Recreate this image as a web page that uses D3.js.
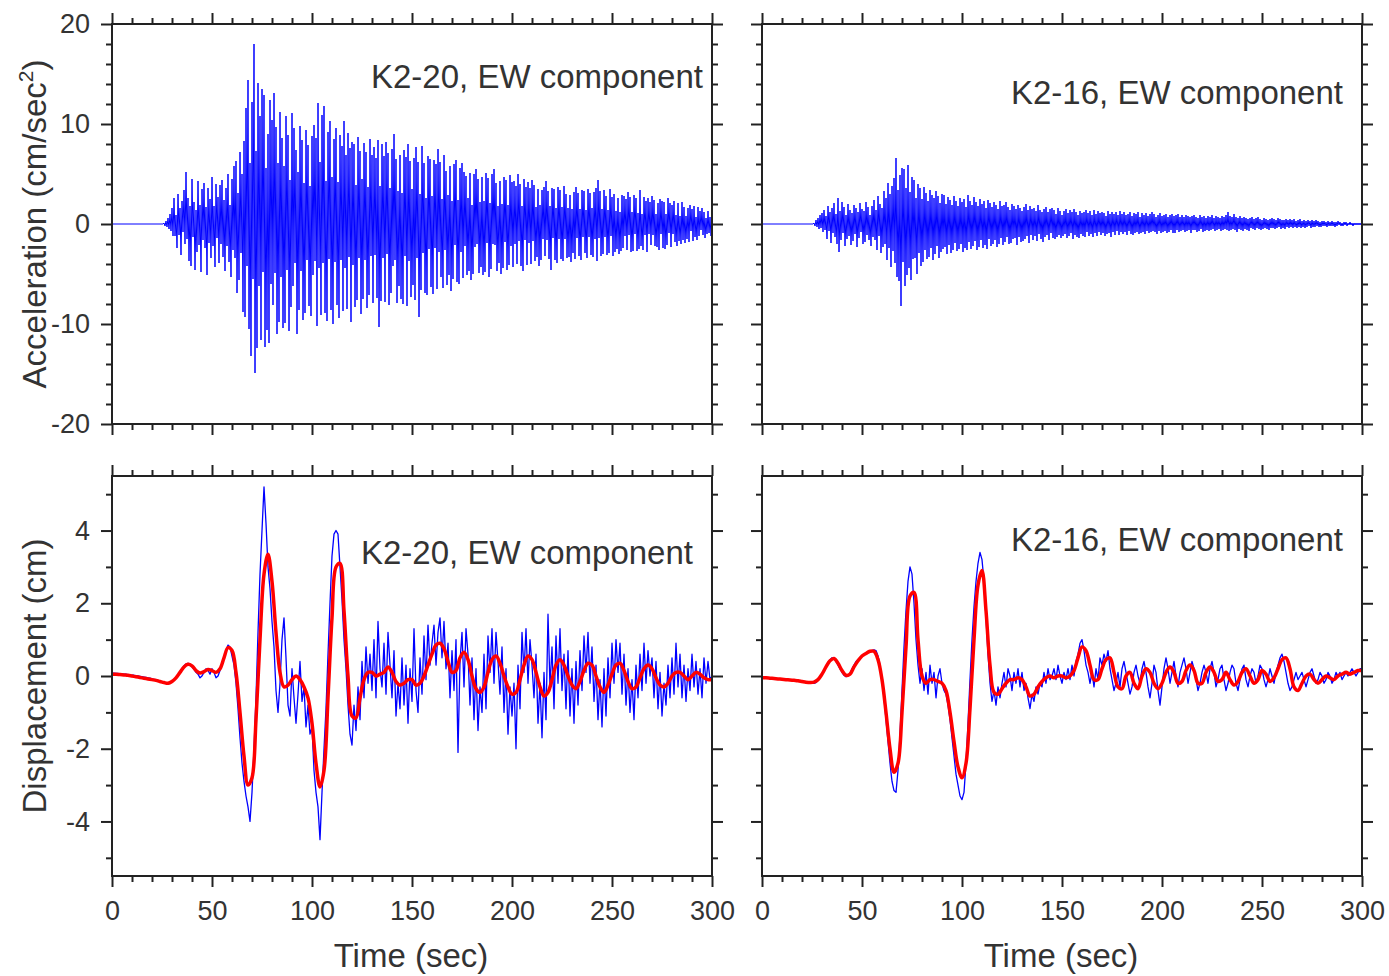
<!DOCTYPE html>
<html>
<head>
<meta charset="utf-8">
<script src="https://cdn.jsdelivr.net/npm/d3@7"></script>
<style>
  html, body { margin: 0; padding: 0; background: #fff; }
  svg { display: block; }
  text { font-family: "Liberation Sans", Arial, sans-serif; fill: #333; }
</style>
</head>
<body>
<svg id="chart" width="1389" height="976"></svg>
<script>
// ---- time axis ----
const timeTicks = [0, 50, 100, 150, 200, 250, 300];

// ---- acceleration records (cm/sec^2), sampled every ACC_DT s from ACC_T0 s; quiet before onset ----
const ACC_T0 = 26;
const ACC_DT = 0.5;
const accK220 = [
  0.1,-0.2,0.3,-0.3,0.6,-0.5,1.0,-0.7,1.6,-1.2,
  2.6,-1.2,0.9,-2.4,3.0,-1.1,1.6,-3.1,2.3,-0.8,
  3.4,-2.0,5.2,-1.5,2.6,-3.7,1.8,-4.2,4.5,-1.3,
  2.2,-4.6,1.4,-2.8,4.3,-2.1,1.9,-4.8,3.5,-1.6,
  4.1,-2.4,1.7,-5.1,3.6,-1.9,2.5,-3.4,4.7,-2.2,
  1.8,-4.3,4.0,-1.4,2.7,-3.9,3.9,-2.0,4.4,-3.3,
  2.4,-4.7,3.6,-2.2,5.0,-3.8,1.9,-5.3,4.5,-2.6,
  5.8,-3.4,6.3,-6.9,3.1,-5.6,7.2,-2.9,5.0,-8.8,
  8.3,-9.3,11.6,-4.2,14.4,-10.5,6.1,-13.2,12.2,-5.5,
  18.0,-14.9,7.3,-12.4,14.1,-6.2,10.8,-11.6,13.5,-4.8,
  12.9,-12.3,5.6,-10.6,9.0,-11.9,12.4,-6.0,10.4,-8.1,
  13.1,-4.9,9.7,-11.0,6.1,-9.8,11.2,-5.3,8.6,-10.4,
  5.8,-9.9,10.8,-4.6,8.9,-10.7,4.4,-8.3,11.1,-6.2,
  9.6,-3.9,7.4,-11.0,5.2,-8.6,9.8,-4.7,8.4,-9.6,
  4.1,-8.9,9.4,-3.6,7.9,-8.2,3.8,-9.2,8.8,-5.1,
  9.9,-3.7,8.6,-10.2,12.1,-4.4,6.2,-9.1,10.9,-3.9,
  11.8,-8.9,4.3,-9.7,9.2,-3.5,10.3,-8.6,4.7,-10.0,
  8.5,-3.8,9.6,-8.1,4.2,-9.4,8.9,-3.6,7.8,-8.7,
  10.3,-4.4,6.9,-8.5,9.1,-3.3,7.6,-9.8,8.2,-4.1,
  8.0,-8.3,3.9,-7.6,8.7,-3.4,7.3,-9.0,4.5,-7.5,
  8.1,-3.6,7.2,-8.4,3.7,-7.1,8.5,-3.2,6.9,-7.9,
  7.7,-3.1,6.6,-7.4,8.4,-10.3,3.8,-7.7,8.0,-3.4,
  6.8,-7.8,8.2,-3.0,7.1,-8.1,3.6,-6.9,7.5,-4.2,
  9.0,-3.6,6.5,-7.9,3.3,-6.2,6.9,-7.5,3.1,-8.0,
  7.4,-3.2,6.7,-8.2,8.0,-3.7,6.3,-7.3,3.5,-6.1,
  6.6,-7.6,7.7,-3.4,6.2,-9.3,3.0,-6.6,7.8,-2.9,
  6.1,-6.9,2.6,-7.1,6.8,-2.5,6.5,-6.3,2.8,-7.0,
  6.4,-2.4,6.0,-6.5,7.5,-2.8,6.2,-5.3,2.5,-6.4,
  6.9,-2.6,5.3,-6.1,2.9,-5.1,5.8,-6.7,2.3,-5.5,
  6.0,-2.1,6.4,-5.8,2.4,-6.0,5.6,-2.8,6.1,-5.4,
  5.2,-2.2,4.8,-5.1,2.6,-4.7,5.1,-5.6,1.9,-5.0,
  5.0,-2.3,5.5,-2.0,4.5,-4.9,2.2,-4.3,4.7,-5.1,
  2.3,-4.8,5.1,-1.9,4.6,-5.3,2.1,-4.5,5.0,-2.0,
  5.5,-2.1,4.1,-4.7,1.8,-3.9,4.3,-5.0,2.0,-4.4,
  4.7,-1.8,4.4,-4.6,1.9,-4.1,4.9,-2.2,4.2,-4.3,
  4.3,-2.0,3.8,-4.0,5.0,-1.7,4.0,-4.2,1.8,-4.7,
  4.5,-1.6,3.7,-4.1,4.2,-1.9,3.6,-4.0,4.4,-1.7,
  3.9,-3.7,1.7,-3.3,3.5,-4.2,1.9,-3.6,3.4,-1.5,
  3.7,-3.2,4.3,-1.6,3.3,-3.5,1.8,-4.6,3.6,-1.4,
  3.5,-3.6,1.6,-3.9,3.7,-1.5,3.4,-3.5,1.7,-3.7,
  3.8,-1.5,3.0,-3.4,1.6,-3.3,2.9,-3.8,1.5,-2.9,
  3.2,-3.5,3.7,-1.4,3.1,-3.2,1.5,-3.6,3.4,-1.3,
  3.3,-2.9,1.4,-3.4,3.5,-1.3,3.1,-3.1,1.6,-3.3,
  3.2,-1.5,3.6,-3.7,4.4,-1.4,3.3,-3.2,1.5,-3.0,
  3.4,-1.3,2.8,-3.1,1.4,-2.9,3.5,-1.2,2.7,-3.2,
  3.0,-2.8,1.3,-2.5,2.6,-3.0,1.2,-2.7,2.9,-2.4,
  2.8,-1.2,2.5,-2.6,3.2,-1.1,2.7,-2.8,1.2,-2.7,
  2.9,-1.0,2.6,-2.7,1.1,-2.5,3.4,-2.2,1.0,-2.6,
  2.7,-1.1,2.3,-2.8,2.6,-1.0,2.2,-2.1,2.8,-1.1,
  2.4,-2.2,1.0,-2.3,2.1,-2.6,2.5,-1.0,2.3,-2.4,
  2.2,-2.5,1.0,-2.1,2.6,-0.9,2.1,-2.3,1.9,-1.0,
  2.3,-1.8,0.9,-2.2,2.1,-1.7,0.8,-2.0,2.2,-1.6,
  1.7,-1.9,0.8,-1.5,1.6,-1.8,1.9,-0.7,1.5,-1.7,
  1.8,-1.3,0.7,-1.6,1.7,-1.2,1.3,-0.6,1.6,-1.1,
  1.2,-1.4,0.6,-1.0,1.3,-0.9,0.7,-1.2,0.6,-0.5
];
const accK216 = [
  0.1,-0.2,0.4,-0.3,0.6,-0.5,0.9,-0.4,1.1,-0.8,
  1.4,-0.6,0.8,-1.5,1.8,-0.7,1.2,-1.9,1.6,-0.9,
  2.1,-1.3,1.0,-2.0,2.6,-2.8,1.3,-1.6,2.2,-0.9,
  1.7,-2.2,0.9,-1.5,2.0,-1.2,1.4,-2.1,1.1,-1.7,
  1.9,-1.0,1.6,-2.3,1.2,-1.4,2.1,-0.8,1.5,-2.0,
  1.3,-1.8,2.2,-1.1,1.7,-1.6,0.9,-2.2,1.8,-1.3,
  2.4,-1.6,1.4,-2.6,2.8,-1.2,2.0,-2.9,1.6,-2.3,
  3.3,-2.0,2.6,-3.6,4.1,-2.4,3.0,-4.3,3.8,-2.7,
  4.6,-3.9,6.6,-5.3,3.4,-5.7,4.9,-8.2,5.6,-3.8,
  5.5,-6.2,3.6,-5.1,5.9,-4.4,3.2,-5.6,4.7,-3.5,
  4.4,-3.4,2.6,-5.0,4.0,-2.9,3.6,-4.2,2.5,-3.8,
  3.7,-2.6,3.1,-3.5,2.3,-3.3,3.4,-2.4,2.9,-3.6,
  2.6,-3.0,3.3,-2.2,2.8,-3.4,2.1,-2.8,3.0,-2.5,
  2.9,-2.3,2.0,-3.0,2.7,-2.1,2.4,-2.9,1.9,-2.6,
  2.8,-1.9,2.3,-2.7,1.8,-2.5,2.6,-2.0,2.2,-2.8,
  2.5,-2.4,1.7,-2.6,2.9,-1.8,2.3,-2.5,1.9,-2.2,
  2.7,-1.7,2.2,-2.6,1.8,-2.3,2.5,-1.6,2.0,-2.4,
  2.3,-2.1,1.6,-2.5,2.4,-1.5,2.1,-2.2,1.7,-2.0,
  2.2,-1.6,1.9,-2.3,1.5,-2.0,2.3,-1.4,1.8,-2.1,
  1.9,-1.8,2.2,-1.3,1.7,-2.0,1.4,-1.9,2.0,-1.5,
  1.8,-1.4,1.5,-2.1,1.9,-1.3,1.6,-1.8,1.3,-1.7,
  1.7,-1.5,2.0,-1.2,1.4,-1.9,1.8,-1.1,1.5,-1.6,
  1.6,-1.2,1.3,-1.7,1.9,-1.0,1.4,-1.5,1.2,-1.8,
  1.5,-1.3,1.7,-1.1,1.2,-1.6,1.5,-0.9,1.6,-1.4,
  1.4,-1.5,1.0,-1.3,1.6,-1.1,1.3,-1.4,0.9,-1.2,
  1.3,-1.0,1.5,-1.4,1.1,-1.2,1.4,-0.9,1.2,-1.5,
  1.5,-1.1,1.2,-1.3,0.9,-1.4,1.3,-1.0,1.1,-1.2,
  1.2,-1.3,1.4,-0.8,1.1,-1.2,1.3,-1.0,0.9,-1.3,
  1.4,-0.9,1.0,-1.2,1.3,-0.8,1.1,-1.1,1.2,-0.9,
  1.1,-1.2,0.8,-1.0,1.3,-0.9,1.0,-1.3,1.2,-0.8,
  1.0,-1.1,1.2,-0.7,0.9,-1.1,1.3,-0.8,1.0,-1.0,
  1.2,-0.8,0.9,-1.1,1.0,-0.7,1.2,-1.0,0.8,-1.1,
  1.1,-0.9,1.0,-0.8,1.2,-1.0,0.7,-0.9,1.1,-0.8,
  0.9,-1.0,1.1,-0.7,0.8,-0.9,1.0,-0.8,1.2,-0.7,
  1.0,-0.8,0.7,-1.0,0.9,-0.7,1.1,-0.9,0.8,-0.8,
  0.9,-0.7,1.0,-0.9,0.7,-0.8,0.9,-0.6,1.0,-0.9,
  0.8,-0.9,0.9,-0.6,1.0,-0.8,0.7,-0.7,0.9,-0.6,
  0.7,-0.8,0.9,-0.7,0.8,-0.6,0.7,-0.9,0.8,-0.6,
  0.9,-0.6,0.7,-0.8,0.6,-0.7,0.9,-0.5,0.7,-0.8,
  0.8,-0.7,0.6,-0.6,0.8,-0.7,0.7,-0.6,0.9,-0.5,
  0.6,-0.7,0.8,-0.6,0.7,-0.5,0.6,-0.7,0.8,-0.6,
  0.7,-0.5,0.9,-0.6,1.2,-0.7,0.8,-0.6,0.7,-0.5,
  1.0,-0.6,0.7,-0.8,0.6,-0.5,0.8,-0.6,0.6,-0.7,
  0.7,-0.5,0.6,-0.6,0.5,-0.7,0.6,-0.4,0.7,-0.5,
  0.5,-0.6,0.6,-0.4,0.7,-0.5,0.5,-0.6,0.4,-0.5,
  0.6,-0.4,0.5,-0.5,0.4,-0.6,0.5,-0.4,0.6,-0.4,
  0.5,-0.5,0.4,-0.4,0.6,-0.3,0.5,-0.5,0.4,-0.4,
  0.4,-0.5,0.5,-0.3,0.4,-0.4,0.5,-0.3,0.4,-0.4,
  0.5,-0.3,0.3,-0.4,0.4,-0.3,0.5,-0.4,0.3,-0.3,
  0.4,-0.4,0.3,-0.3,0.4,-0.2,0.3,-0.4,0.4,-0.3,
  0.3,-0.3,0.4,-0.2,0.3,-0.3,0.2,-0.3,0.3,-0.2,
  0.3,-0.2,0.2,-0.3,0.3,-0.2,0.2,-0.2,0.3,-0.2,
  0.2,-0.3,0.2,-0.2,0.3,-0.1,0.2,-0.2,0.1,-0.2,
  0.2,-0.1,0.2,-0.2,0.1,-0.1,0.2,-0.1,0.1,-0.2,
  0.1,-0.1,0.1,-0.1,0.1,-0.1,0.1,-0.1,0.1,-0.1
];

// ---- displacement records (cm): raw trace every 1 s, filtered trace every 2 s, both from t = 0 ----
const DISP_DT = 1;
const FILT_DT = 2;
const dispK220 = [
  0.08,0.08,0.07,0.07,0.06,0.06,0.05,0.05,0.04,0.03,
  0.02,0.02,0.01,0.0,-0.01,-0.02,-0.03,-0.04,-0.05,-0.06,
  -0.08,-0.09,-0.1,-0.12,-0.14,-0.16,-0.18,-0.2,-0.22,-0.2,
  -0.15,-0.1,-0.05,0.02,0.1,0.2,0.28,0.33,0.35,0.3,
  0.25,0.18,0.1,0.05,-0.05,0.0,0.1,0.2,0.15,0.05,
  0.2,0.1,-0.05,0.0,0.15,0.3,0.5,0.7,0.85,0.8,
  0.55,0.3,-0.2,-0.9,-1.7,-2.4,-2.9,-3.3,-3.6,-4.0,
  -3.2,-2.0,-0.6,1.2,2.8,4.0,5.2,4.2,3.0,2.4,
  1.5,0.8,-0.4,-1.0,-0.2,1.0,1.6,0.5,-0.8,-1.1,
  0.2,-0.6,-1.3,-0.5,0.4,-0.7,-0.3,-1.4,-0.8,-1.6,
  -1.4,-2.6,-3.2,-3.6,-4.5,-3.2,-2.0,-0.9,0.6,2.0,
  3.3,3.9,4.0,3.9,3.0,2.1,1.0,0.2,-0.8,-1.6,
  -1.9,-0.8,-1.5,-0.3,-1.2,0.4,-0.6,0.8,-0.2,0.6,
  -0.4,1.0,-0.6,1.5,0.2,-0.3,0.9,-0.5,1.2,0.3,
  -0.6,0.7,-1.1,-0.2,-0.9,0.5,-0.8,0.3,-1.3,0.2,
  -0.7,1.3,-0.4,-1.0,0.5,-0.5,1.1,-0.1,1.4,0.3,
  0.9,1.4,0.3,1.2,1.6,0.5,1.5,0.2,0.9,-0.6,
  0.7,-0.4,1.0,-2.1,0.4,1.2,-0.3,1.3,0.6,-0.8,
  0.5,-1.2,0.2,-1.5,-0.3,-1.0,0.6,-0.9,1.1,0.1,
  1.3,-0.2,1.2,0.4,-0.5,0.8,-1.0,0.2,-1.6,-0.3,
  -1.1,-0.2,-2.0,0.3,-0.9,1.2,0.1,1.3,-0.2,1.0,
  0.3,-0.6,0.6,-1.3,-0.2,-1.7,0.1,-1.2,1.7,-0.3,
  0.8,-0.9,1.1,-0.2,1.3,-0.4,0.6,-0.9,0.7,-1.1,
  0.2,-1.3,0.4,-0.8,0.7,-0.4,1.1,0.1,1.2,-0.2,
  0.8,-0.7,0.3,-1.2,-0.1,-1.4,0.2,-1.1,0.5,-0.6,
  0.9,-0.2,1.0,0.1,0.9,-0.5,0.6,-0.8,0.2,-1.0,
  -0.1,-1.2,0.3,-0.6,0.6,-0.4,0.9,-0.2,0.7,0.0,
  0.5,-0.6,0.4,-0.9,0.1,-1.1,-0.2,-0.8,0.3,-0.6,
  0.5,-0.5,0.9,-0.3,0.6,-0.6,0.3,-0.7,0.2,-0.4,
  0.6,-0.3,0.4,-0.5,0.2,-0.6,0.5,-0.2,0.4,-0.1,
  0.0
];
const filtK220 = [
  0.05,0.05,0.04,0.03,0.02,0.0,-0.02,-0.04,-0.06,-0.08,
  -0.1,-0.12,-0.15,-0.18,-0.2,-0.15,-0.05,0.1,0.25,0.32,
  0.28,0.15,0.08,0.12,0.18,0.15,0.1,0.2,0.5,0.78,
  0.7,0.1,-1.0,-2.2,-3.0,-2.8,-1.2,1.0,2.8,3.35,
  2.6,1.2,0.1,-0.3,-0.25,-0.1,0.0,-0.1,-0.3,-0.6,
  -1.3,-2.4,-3.05,-2.6,-0.6,1.6,3.0,3.1,1.8,0.0,
  -1.1,-1.15,-0.6,-0.1,0.1,0.1,0.0,0.05,0.1,0.25,
  0.1,-0.15,-0.25,-0.2,-0.1,-0.1,-0.25,-0.2,0.0,0.3,
  0.6,0.85,0.9,0.75,0.4,0.1,0.15,0.5,0.65,0.45,
  0.0,-0.35,-0.45,-0.3,0.1,0.45,0.55,0.35,0.0,-0.3,
  -0.5,-0.45,-0.1,0.3,0.55,0.45,0.1,-0.3,-0.55,-0.45,
  -0.1,0.3,0.45,0.3,0.0,-0.25,-0.35,-0.15,0.15,0.35,
  0.3,0.0,-0.3,-0.45,-0.25,0.05,0.3,0.35,0.15,-0.15,
  -0.35,-0.3,-0.05,0.2,0.3,0.2,-0.05,-0.25,-0.3,-0.2,
  0.0,0.1,0.1,0.0,-0.1,0.0,0.1,0.05,-0.05,-0.1,
  -0.1
];
const dispK216 = [
  -0.05,-0.05,-0.06,-0.06,-0.07,-0.07,-0.08,-0.08,-0.09,-0.09,
  -0.1,-0.1,-0.11,-0.11,-0.12,-0.12,-0.13,-0.13,-0.14,-0.15,
  -0.16,-0.17,-0.18,-0.19,-0.2,-0.2,-0.2,-0.18,-0.12,-0.05,
  0.05,0.15,0.25,0.35,0.45,0.5,0.48,0.4,0.3,0.2,
  0.1,0.02,-0.02,0.0,0.08,0.2,0.3,0.4,0.45,0.5,
  0.55,0.6,0.62,0.65,0.68,0.7,0.72,0.7,0.55,0.3,
  -0.1,-0.6,-1.2,-1.8,-2.4,-2.9,-3.15,-3.2,-2.6,-1.6,
  -0.4,0.8,1.8,2.6,3.0,2.8,2.0,1.0,0.3,-0.2,
  0.2,-0.4,0.1,-0.5,0.3,-0.2,0.1,-0.6,0.0,0.2,
  -0.2,-0.4,-0.5,-0.8,-1.2,-1.7,-2.2,-2.7,-3.0,-3.3,
  -3.4,-3.2,-2.4,-1.3,-0.1,1.0,1.9,2.6,3.1,3.4,
  3.2,2.6,1.6,0.6,-0.2,-0.7,-0.4,-0.8,-0.3,-0.6,
  -0.2,0.1,-0.3,0.2,0.0,-0.4,0.1,-0.2,0.2,-0.3,
  0.1,-0.4,-0.2,-0.6,-0.9,-0.5,-0.7,-0.3,-0.5,-0.2,
  -0.3,0.1,-0.2,0.2,-0.1,0.0,0.2,-0.1,0.3,0.0,
  -0.2,0.1,-0.1,0.2,-0.1,0.3,0.0,0.4,0.6,0.9,
  1.0,0.7,0.3,0.1,-0.2,0.1,-0.3,0.2,-0.1,0.5,
  0.3,0.6,0.4,0.7,0.2,-0.1,-0.4,-0.2,0.1,-0.3,
  0.2,0.4,0.1,-0.2,-0.5,-0.3,0.1,0.3,0.0,-0.2,
  0.2,0.4,0.1,-0.3,-0.6,-0.2,0.3,0.1,-0.4,-0.8,
  -0.3,0.2,0.5,0.2,-0.2,0.1,0.4,0.0,-0.3,0.1,
  0.3,0.5,0.2,-0.2,0.1,0.4,0.2,-0.1,-0.4,-0.2,
  0.1,0.3,0.1,-0.2,0.2,0.4,0.1,-0.3,-0.1,0.2,
  0.3,-0.1,-0.4,-0.2,0.1,0.3,0.2,-0.2,-0.4,-0.1,
  0.2,0.3,-0.1,-0.3,0.0,0.2,0.1,-0.2,0.0,0.3,
  0.2,-0.1,-0.3,-0.1,0.2,0.0,-0.2,0.1,0.3,0.5,
  0.6,0.4,0.1,-0.2,-0.4,-0.3,-0.1,0.1,-0.1,0.0,
  0.1,-0.1,-0.3,-0.1,0.1,0.2,0.0,-0.2,-0.1,0.1,
  0.0,-0.2,-0.1,0.1,0.0,-0.2,-0.1,0.1,0.0,0.1,
  -0.1,0.0,0.1,0.0,0.1,0.2,0.1,0.0,0.1,0.2,
  0.2
];
const filtK216 = [
  -0.05,-0.05,-0.06,-0.07,-0.08,-0.09,-0.1,-0.11,-0.12,-0.13,
  -0.15,-0.17,-0.18,-0.17,-0.1,0.05,0.25,0.42,0.48,0.35,
  0.15,0.02,0.05,0.25,0.42,0.55,0.62,0.68,0.68,0.45,
  -0.1,-1.0,-2.0,-2.65,-2.4,-1.0,0.8,2.2,2.3,1.0,
  0.0,-0.2,-0.1,-0.1,-0.15,-0.2,-0.4,-1.0,-1.8,-2.5,
  -2.8,-2.4,-0.9,1.0,2.5,2.9,1.8,0.3,-0.45,-0.5,
  -0.35,-0.2,-0.1,-0.1,-0.05,-0.1,-0.3,-0.55,-0.5,-0.3,
  -0.15,-0.05,0.0,-0.05,0.0,0.0,-0.05,0.0,0.15,0.5,
  0.8,0.7,0.3,-0.1,-0.1,0.2,0.45,0.5,0.1,-0.3,
  -0.35,0.0,0.1,-0.2,-0.35,0.0,0.2,0.1,-0.2,-0.35,
  -0.2,0.1,0.25,0.1,-0.2,-0.15,0.15,0.3,0.15,-0.2,
  -0.2,0.1,0.25,0.1,-0.15,-0.1,0.1,-0.1,-0.25,-0.15,
  0.1,0.2,0.0,-0.2,-0.1,0.15,0.05,-0.15,-0.05,0.2,
  0.45,0.5,0.2,-0.3,-0.4,-0.2,0.0,0.05,-0.1,-0.2,
  -0.1,0.0,-0.05,-0.1,0.0,0.05,0.1,0.05,0.1,0.15,
  0.15
];

// ---- y-axis ticks ----
const accTicks = [-20, -10, 0, 10, 20];
const dispTicks = [-4, -2, 0, 2, 4];

// ---- layout ----
const svg = d3.select("#chart");
const W = 600, H = 400;
const colX = [112, 762];
const rowY = [24, 476];
const BLUE = "#0000ff", RED = "#ff0000", INK = "#222";
const plainNumber = d => String(d);   // hyphen-minus, as printed on the axes
const noLabel = () => "";

const x = d3.scaleLinear().domain([0, 300]);
const yAcc = d3.scaleLinear().domain([-20, 20]).range([H, 0]);
const yDisp = d3.scaleLinear().domain([-5.5, 5.5]).range([H, 0]);

function seriesFrom(values, t0, dt) {
  return values.map((v, i) => [t0 + i * dt, v]);
}

function panel(col, row, yScale, yMajor, yMinorStep, showYLabels, showXLabels, id) {
  const g = svg.append("g").attr("transform", `translate(${colX[col]},${rowY[row]})`);
  const xs = x.copy().range([0, W]);
  const [y0, y1] = yScale.domain();
  const yMinor = d3.range(Math.ceil(y0 / yMinorStep) * yMinorStep, y1 + 1e-9, yMinorStep)
    .filter(v => !yMajor.some(m => Math.abs(m - v) < 1e-9));
  const xMinor = d3.range(0, 301, 10).filter(v => v % 50 !== 0);

  g.append("clipPath").attr("id", id).append("rect").attr("width", W).attr("height", H);

  const axes = g.append("g").attr("class", "axes");
  const styleAxis = sel => {
    sel.select(".domain").remove();
    sel.selectAll("line").attr("stroke", INK).attr("stroke-width", 2);
    sel.selectAll("text").attr("fill", "#333")
      .style("font-family", '"Liberation Sans", Arial, sans-serif').style("font-size", "27px");
  };
  // major + minor ticks on all four sides, pointing outward
  axes.append("g").attr("transform", `translate(0,${H})`)
    .call(d3.axisBottom(xs).tickValues(timeTicks).tickSize(11).tickPadding(14)
      .tickFormat(showXLabels ? plainNumber : noLabel))
    .call(styleAxis);
  axes.append("g").attr("transform", `translate(0,${H})`)
    .call(d3.axisBottom(xs).tickValues(xMinor).tickSize(6).tickFormat(noLabel)).call(styleAxis);
  axes.append("g")
    .call(d3.axisTop(xs).tickValues(timeTicks).tickSize(11).tickFormat(noLabel)).call(styleAxis);
  axes.append("g")
    .call(d3.axisTop(xs).tickValues(xMinor).tickSize(6).tickFormat(noLabel)).call(styleAxis);
  axes.append("g")
    .call(d3.axisLeft(yScale).tickValues(yMajor).tickSize(11).tickPadding(11)
      .tickFormat(showYLabels ? plainNumber : noLabel))
    .call(styleAxis);
  axes.append("g")
    .call(d3.axisLeft(yScale).tickValues(yMinor).tickSize(6).tickFormat(noLabel)).call(styleAxis);
  axes.append("g").attr("transform", `translate(${W},0)`)
    .call(d3.axisRight(yScale).tickValues(yMajor).tickSize(11).tickFormat(noLabel)).call(styleAxis);
  axes.append("g").attr("transform", `translate(${W},0)`)
    .call(d3.axisRight(yScale).tickValues(yMinor).tickSize(6).tickFormat(noLabel)).call(styleAxis);

  const plot = g.append("g").attr("clip-path", `url(#${id})`);
  g.append("rect").attr("width", W).attr("height", H)
    .attr("fill", "none").attr("stroke", INK).attr("stroke-width", 2);

  return { g, plot, xs, ys: yScale };
}

function trace(p, data, color, width, curve) {
  const line = d3.line().x(d => p.xs(d[0])).y(d => p.ys(d[1])).curve(curve || d3.curveLinear);
  p.plot.append("path").datum(data).attr("d", line)
    .attr("fill", "none").attr("stroke", color).attr("stroke-width", width)
    .attr("stroke-linejoin", "round");
}

function label(p, text, xr, yb) {
  p.g.append("text").attr("x", xr).attr("y", yb).attr("text-anchor", "end")
    .style("font-size", "33px").text(text);
}

// acceleration panels: flat trace from 0 s up to onset, then the sampled record
function accSeries(values) {
  return [[0, 0], [ACC_T0 - ACC_DT, 0]].concat(seriesFrom(values, ACC_T0, ACC_DT));
}

const pA = panel(0, 0, yAcc, accTicks, 2, true, false, "clipA");
trace(pA, accSeries(accK220), BLUE, 1);
label(pA, "K2-20, EW component", 591, 64);

const pB = panel(1, 0, yAcc, accTicks, 2, false, false, "clipB");
trace(pB, accSeries(accK216), BLUE, 1);
label(pB, "K2-16, EW component", 581, 80);

const pC = panel(0, 1, yDisp, dispTicks, 1, true, true, "clipC");
trace(pC, seriesFrom(dispK220, 0, DISP_DT), BLUE, 1.3);
trace(pC, seriesFrom(filtK220, 0, FILT_DT), RED, 3.5, d3.curveCatmullRom);
label(pC, "K2-20, EW component", 581, 88);

const pD = panel(1, 1, yDisp, dispTicks, 1, false, true, "clipD");
trace(pD, seriesFrom(dispK216, 0, DISP_DT), BLUE, 1.3);
trace(pD, seriesFrom(filtK216, 0, FILT_DT), RED, 3.5, d3.curveCatmullRom);
label(pD, "K2-16, EW component", 581, 75);

// axis titles
const accTitle = svg.append("text")
  .attr("transform", "translate(46,224) rotate(-90)")
  .attr("text-anchor", "middle").style("font-size", "33px");
accTitle.append("tspan").text("Acceleration (cm/sec");
accTitle.append("tspan").attr("dy", -13).style("font-size", "21px").text("2");
accTitle.append("tspan").attr("dy", 13).text(")");

svg.append("text")
  .attr("transform", "translate(46,676) rotate(-90)")
  .attr("text-anchor", "middle").style("font-size", "33px").text("Displacement (cm)");

[0, 1].forEach(c => {
  svg.append("text").attr("x", colX[c] + W / 2 - 1).attr("y", 967)
    .attr("text-anchor", "middle").style("font-size", "33px").text("Time (sec)");
});
</script>
</body>
</html>
